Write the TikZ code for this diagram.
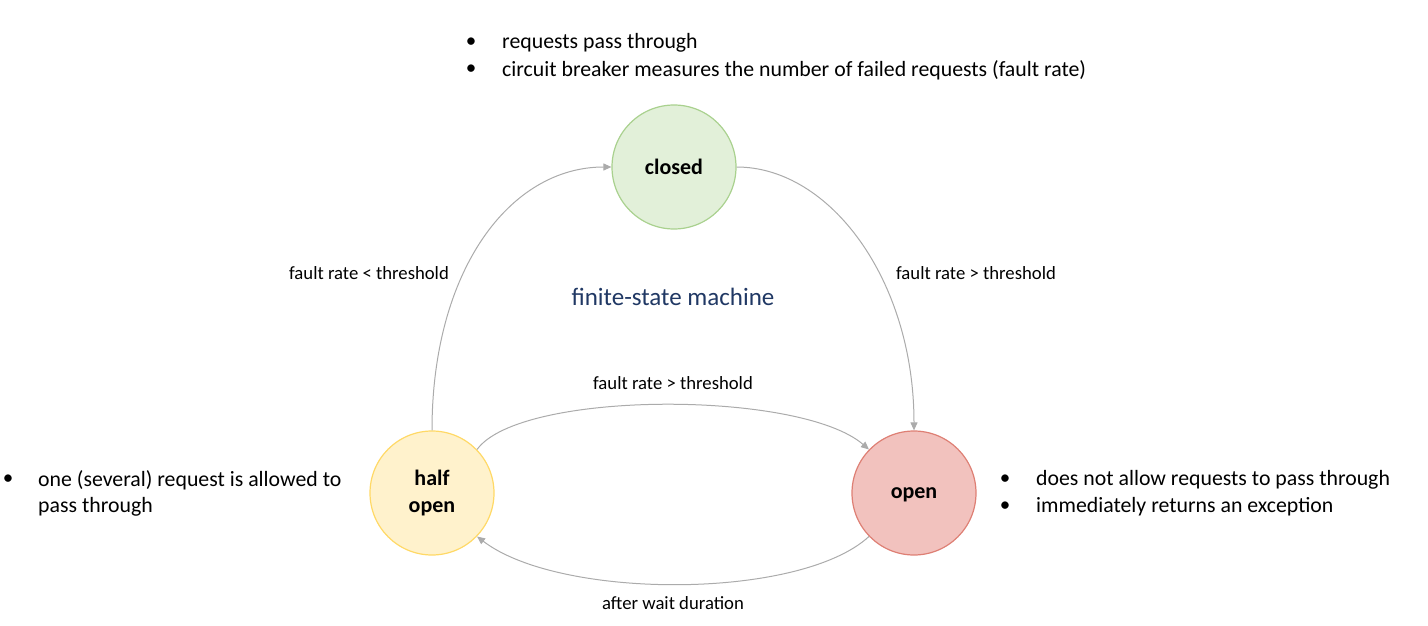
\documentclass[tikz,border=0pt]{standalone}
\usepackage{fontspec}
\setmainfont{Carlito}
\usetikzlibrary{arrows.meta}
\definecolor{cgreen}{HTML}{E2F0D9}
\definecolor{cgreenb}{HTML}{A9D18E}
\definecolor{cyellow}{HTML}{FFF2CC}
\definecolor{cyellowb}{HTML}{FFD966}
\definecolor{cred}{HTML}{F2C2BE}
\definecolor{credb}{HTML}{DE7F74}
\definecolor{cgray}{HTML}{ABABAB}
\definecolor{cblue}{HTML}{203864}
\tikzset{
  state/.style={circle, minimum size=124pt, inner sep=0pt, line width=1.2pt, font=\fontsize{22}{27}\selectfont\bfseries, align=center},
  conn/.style={draw=cgray, line width=1pt, -{Triangle[length=8pt,width=7pt]}},
  lbl/.style={font=\fontsize{18.7}{22}\selectfont, inner sep=0pt},
  btext/.style={font=\fontsize{21.8}{26}\selectfont, anchor=west, inner sep=0pt},
  bdot/.style={font=\fontsize{21}{26}\selectfont, inner sep=0pt}
}
\begin{document}
\begin{tikzpicture}[x=1pt,y=-1pt]
\useasboundingbox (0,0) rectangle (1428,626);
\node[state, fill=cgreen, draw=cgreenb] (closed) at (674,167) {closed};
\node[state, fill=cyellow, draw=cyellowb] (half) at (432,493) {\raisebox{-2pt}{half}\\\raisebox{-2pt}{open}};
\node[state, fill=cred, draw=credb] (open) at (914,493) {\vphantom{l}open};

\draw[conn] (half.90) .. controls (432,270) and (510,167) .. (closed.180);
\draw[conn] (closed.0) .. controls (830,167) and (914,280) .. (open.90);
\draw[conn] (half.44) .. controls (520,390) and (800,390) .. (open.136);
\draw[conn] (open.-136) .. controls (800,600) and (560,600) .. (half.-44);

\node[lbl] (l1) at (369,273) {fault rate < threshold};
\node[lbl] (l2) at (976,273) {fault rate > threshold};
\node[lbl] (l3) at (673,383) {fault rate > threshold};
\node[lbl] (l4) at (673,603) {after wait duration};
\node[font=\fontsize{25}{30}\selectfont, text=cblue, inner sep=0pt] (fsm) at (673,297) {finite-state machine};

\node[bdot] (b1) at (471,43) {\textbullet};
\node[btext] (t1) at (502,43) {requests pass through};
\node[bdot] (b2) at (471,70) {\textbullet};
\node[btext] (t2) at (502,70) {circuit breaker measures the number of failed requests (fault rate)};

\node[bdot] (b3) at (8,480) {\textbullet};
\node[btext] (t3) at (38,480) {one (several) request is allowed to};
\node[btext] (t4) at (38,507) {pass through};

\node[bdot] (b5) at (1005,480) {\textbullet};
\node[btext] (t5) at (1036,480) {does not allow requests to pass through};
\node[bdot] (b6) at (1005,507) {\textbullet};
\node[btext] (t6) at (1036,507) {immediately returns an exception};
\end{tikzpicture}
\end{document}
